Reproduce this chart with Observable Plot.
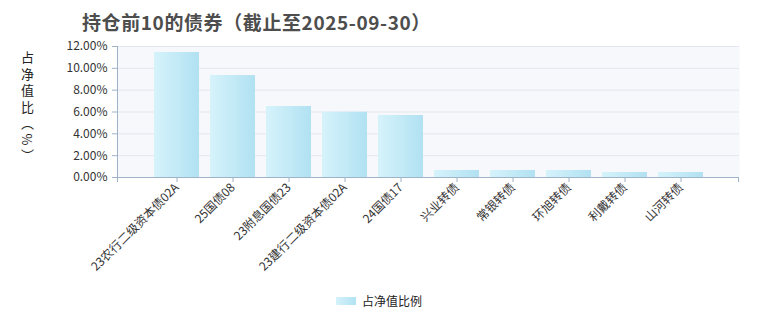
<!DOCTYPE html>
<html><head><meta charset="utf-8">
<script src="https://cdn.jsdelivr.net/npm/d3@7"></script>
<script src="https://cdn.jsdelivr.net/npm/@observablehq/plot@0.6"></script>
<style>
body{margin:0;background:#fff;font-family:"Noto Sans CJK SC","Noto Sans",sans-serif;}
#wrap{position:relative;width:761px;height:320px;overflow:hidden;background:#fff}
#title{position:absolute;left:82px;top:8px;font-size:19px;letter-spacing:0.6px;font-weight:bold;color:#4d4d4d;line-height:28px;white-space:nowrap}
#ylab{position:absolute;left:19px;top:51px;writing-mode:vertical-rl;font-size:13px;letter-spacing:3.5px;color:#222;line-height:16px}
#legend{position:absolute;left:336px;top:292px;font-size:12px;color:#222;display:flex;align-items:center;white-space:nowrap}
#legend .sw{width:20px;height:8px;background:linear-gradient(to right,#d5f2fb,#b2e2f2);margin-right:6px}
#chart{position:absolute;left:0;top:0}
</style></head>
<body>
<div id="wrap">
  <div id="title">持仓前10的债券（截止至2025-09-30）</div>
  <div id="ylab">占净值比（%）</div>
  <div id="chart"></div>
  <div id="legend"><span class="sw"></span><span>占净值比例</span></div>
</div>
<script>
const names = ["23农行二级资本债02A","25国债08","23附息国债23","23建行二级资本债02A","24国债17","兴业转债","常银转债","环旭转债","利戴转债","山河转债"];
const values = [11.45, 9.34, 6.50, 5.98, 5.68, 0.64, 0.64, 0.64, 0.46, 0.46];
const yTicks = [0, 2, 4, 6, 8, 10, 12];

const data = names.map((n, i) => ({name: n, value: values[i]}));
const axisColor = "#9fb3c8";

const defs = () => {
  const d = d3.create("svg:defs");
  const g = d.append("linearGradient").attr("id", "barGrad")
    .attr("x1", "0").attr("x2", "1").attr("y1", "0").attr("y2", "0");
  g.append("stop").attr("offset", "0%").attr("stop-color", "#d6f3fb");
  g.append("stop").attr("offset", "100%").attr("stop-color", "#b1e1f2");
  return d.node();
};

const axisLines = (index, scales, values, dim) => {
  const g = d3.create("svg:g").attr("stroke", axisColor).attr("fill", "none");
  const x0 = dim.marginLeft, x1 = dim.width - dim.marginRight;
  const y0 = dim.marginTop, y1 = dim.height - dim.marginBottom;
  g.append("line").attr("x1", x0 + 0.5).attr("x2", x0 + 0.5).attr("y1", y0).attr("y2", y1);
  g.append("line").attr("x1", x0).attr("x2", x1).attr("y1", y1 + 0.5).attr("y2", y1 + 0.5);
  g.append("line").attr("x1", x0 + 0.5).attr("x2", x0 + 0.5).attr("y1", y1).attr("y2", y1 + 5);
  g.append("line").attr("x1", x1 - 0.5).attr("x2", x1 - 0.5).attr("y1", y1).attr("y2", y1 + 5);
  return g.node();
};

const chart = Plot.plot({
  width: 761,
  height: 285,
  marginLeft: 117,
  marginRight: 22,
  marginTop: 46,
  marginBottom: 108,
  style: {fontSize: "12px", fontFamily: "'Noto Sans CJK SC','Noto Sans',sans-serif", background: "transparent", color: "#333"},
  x: {domain: names, paddingInner: 0.2, paddingOuter: 0.6, label: null},
  y: {domain: [0, 12], label: null},
  marks: [
    defs,
    Plot.frame({fill: "#f7f8fb", stroke: null}),
    Plot.gridY(yTicks, {stroke: "#e2e7ef", strokeOpacity: 1}),
    Plot.barY(data, {x: "name", y: "value", fill: "url(#barGrad)"}),
    Plot.axisY(yTicks, {tickFormat: d => d.toFixed(2) + "%", tickSize: 5, tickPadding: 5, stroke: axisColor, fill: "#333", label: null}),
    Plot.axisX({tickSize: 5, tickPadding: 3, tickRotate: -45, stroke: axisColor, fill: "#333", label: null}),
    axisLines
  ]
});
document.getElementById("chart").appendChild(chart);
</script>
</body></html>
